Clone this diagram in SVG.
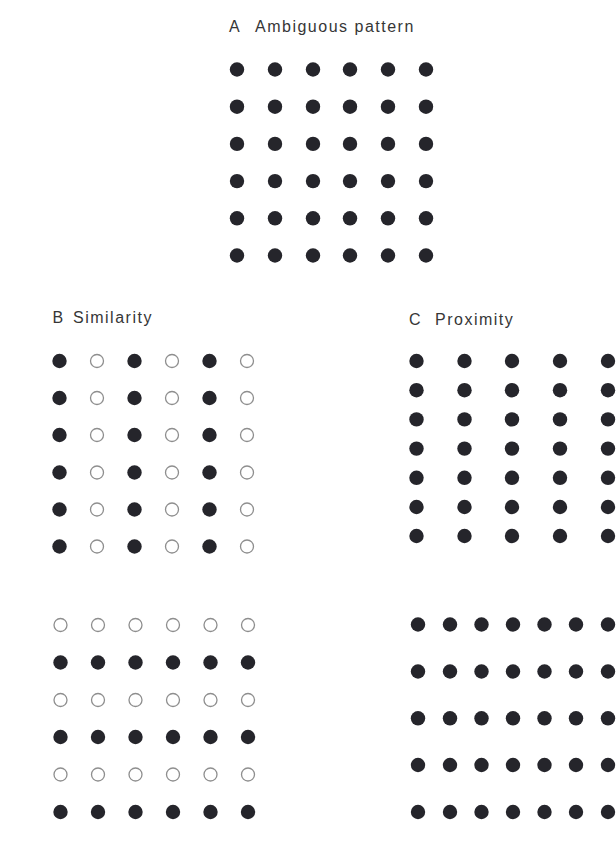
<svg xmlns="http://www.w3.org/2000/svg" width="616" height="852" viewBox="0 0 616 852">
<style>
.bg{fill:#ffffff}
.lbl{font-family:"Liberation Sans",Arial,sans-serif;font-size:16px;letter-spacing:1.5px;fill:#363636}
.dot{fill:#25252b}
.ring{fill:none;stroke:#8e8e8e;stroke-width:1.3}
</style>
<rect class="bg" x="0" y="0" width="616" height="852"/>

<g id="panel-A">
<text class="lbl" y="32"><tspan x="229">A</tspan><tspan x="255">Ambiguous pattern</tspan></text>
<g id="A-dots">
<circle class="dot" cx="237" cy="69.5" r="7.2"/><circle class="dot" cx="275" cy="69.5" r="7.2"/><circle class="dot" cx="313" cy="69.5" r="7.2"/><circle class="dot" cx="350" cy="69.5" r="7.2"/><circle class="dot" cx="388" cy="69.5" r="7.2"/><circle class="dot" cx="426" cy="69.5" r="7.2"/>
<circle class="dot" cx="237" cy="106.7" r="7.2"/><circle class="dot" cx="275" cy="106.7" r="7.2"/><circle class="dot" cx="313" cy="106.7" r="7.2"/><circle class="dot" cx="350" cy="106.7" r="7.2"/><circle class="dot" cx="388" cy="106.7" r="7.2"/><circle class="dot" cx="426" cy="106.7" r="7.2"/>
<circle class="dot" cx="237" cy="143.9" r="7.2"/><circle class="dot" cx="275" cy="143.9" r="7.2"/><circle class="dot" cx="313" cy="143.9" r="7.2"/><circle class="dot" cx="350" cy="143.9" r="7.2"/><circle class="dot" cx="388" cy="143.9" r="7.2"/><circle class="dot" cx="426" cy="143.9" r="7.2"/>
<circle class="dot" cx="237" cy="181.1" r="7.2"/><circle class="dot" cx="275" cy="181.1" r="7.2"/><circle class="dot" cx="313" cy="181.1" r="7.2"/><circle class="dot" cx="350" cy="181.1" r="7.2"/><circle class="dot" cx="388" cy="181.1" r="7.2"/><circle class="dot" cx="426" cy="181.1" r="7.2"/>
<circle class="dot" cx="237" cy="218.3" r="7.2"/><circle class="dot" cx="275" cy="218.3" r="7.2"/><circle class="dot" cx="313" cy="218.3" r="7.2"/><circle class="dot" cx="350" cy="218.3" r="7.2"/><circle class="dot" cx="388" cy="218.3" r="7.2"/><circle class="dot" cx="426" cy="218.3" r="7.2"/>
<circle class="dot" cx="237" cy="255.5" r="7.2"/><circle class="dot" cx="275" cy="255.5" r="7.2"/><circle class="dot" cx="313" cy="255.5" r="7.2"/><circle class="dot" cx="350" cy="255.5" r="7.2"/><circle class="dot" cx="388" cy="255.5" r="7.2"/><circle class="dot" cx="426" cy="255.5" r="7.2"/>
</g>
</g>

<g id="panel-B">
<text class="lbl" y="323"><tspan x="52.5">B</tspan><tspan x="73">Similarity</tspan></text>
<g id="B-columns">
<circle class="dot" cx="59.5" cy="361" r="7.2"/><circle class="ring" cx="97" cy="361" r="6.5"/><circle class="dot" cx="134.5" cy="361" r="7.2"/><circle class="ring" cx="172" cy="361" r="6.5"/><circle class="dot" cx="209.5" cy="361" r="7.2"/><circle class="ring" cx="247" cy="361" r="6.5"/>
<circle class="dot" cx="59.5" cy="398" r="7.2"/><circle class="ring" cx="97" cy="398" r="6.5"/><circle class="dot" cx="134.5" cy="398" r="7.2"/><circle class="ring" cx="172" cy="398" r="6.5"/><circle class="dot" cx="209.5" cy="398" r="7.2"/><circle class="ring" cx="247" cy="398" r="6.5"/>
<circle class="dot" cx="59.5" cy="435" r="7.2"/><circle class="ring" cx="97" cy="435" r="6.5"/><circle class="dot" cx="134.5" cy="435" r="7.2"/><circle class="ring" cx="172" cy="435" r="6.5"/><circle class="dot" cx="209.5" cy="435" r="7.2"/><circle class="ring" cx="247" cy="435" r="6.5"/>
<circle class="dot" cx="59.5" cy="472.5" r="7.2"/><circle class="ring" cx="97" cy="472.5" r="6.5"/><circle class="dot" cx="134.5" cy="472.5" r="7.2"/><circle class="ring" cx="172" cy="472.5" r="6.5"/><circle class="dot" cx="209.5" cy="472.5" r="7.2"/><circle class="ring" cx="247" cy="472.5" r="6.5"/>
<circle class="dot" cx="59.5" cy="509.5" r="7.2"/><circle class="ring" cx="97" cy="509.5" r="6.5"/><circle class="dot" cx="134.5" cy="509.5" r="7.2"/><circle class="ring" cx="172" cy="509.5" r="6.5"/><circle class="dot" cx="209.5" cy="509.5" r="7.2"/><circle class="ring" cx="247" cy="509.5" r="6.5"/>
<circle class="dot" cx="59.5" cy="546.5" r="7.2"/><circle class="ring" cx="97" cy="546.5" r="6.5"/><circle class="dot" cx="134.5" cy="546.5" r="7.2"/><circle class="ring" cx="172" cy="546.5" r="6.5"/><circle class="dot" cx="209.5" cy="546.5" r="7.2"/><circle class="ring" cx="247" cy="546.5" r="6.5"/>
</g>
<g id="B-rows">
<circle class="ring" cx="60.5" cy="625" r="6.5"/><circle class="ring" cx="98" cy="625" r="6.5"/><circle class="ring" cx="135.5" cy="625" r="6.5"/><circle class="ring" cx="173" cy="625" r="6.5"/><circle class="ring" cx="210.5" cy="625" r="6.5"/><circle class="ring" cx="248" cy="625" r="6.5"/>
<circle class="dot" cx="60.5" cy="662.5" r="7.2"/><circle class="dot" cx="98" cy="662.5" r="7.2"/><circle class="dot" cx="135.5" cy="662.5" r="7.2"/><circle class="dot" cx="173" cy="662.5" r="7.2"/><circle class="dot" cx="210.5" cy="662.5" r="7.2"/><circle class="dot" cx="248" cy="662.5" r="7.2"/>
<circle class="ring" cx="60.5" cy="700" r="6.5"/><circle class="ring" cx="98" cy="700" r="6.5"/><circle class="ring" cx="135.5" cy="700" r="6.5"/><circle class="ring" cx="173" cy="700" r="6.5"/><circle class="ring" cx="210.5" cy="700" r="6.5"/><circle class="ring" cx="248" cy="700" r="6.5"/>
<circle class="dot" cx="60.5" cy="737" r="7.2"/><circle class="dot" cx="98" cy="737" r="7.2"/><circle class="dot" cx="135.5" cy="737" r="7.2"/><circle class="dot" cx="173" cy="737" r="7.2"/><circle class="dot" cx="210.5" cy="737" r="7.2"/><circle class="dot" cx="248" cy="737" r="7.2"/>
<circle class="ring" cx="60.5" cy="774.5" r="6.5"/><circle class="ring" cx="98" cy="774.5" r="6.5"/><circle class="ring" cx="135.5" cy="774.5" r="6.5"/><circle class="ring" cx="173" cy="774.5" r="6.5"/><circle class="ring" cx="210.5" cy="774.5" r="6.5"/><circle class="ring" cx="248" cy="774.5" r="6.5"/>
<circle class="dot" cx="60.5" cy="812" r="7.2"/><circle class="dot" cx="98" cy="812" r="7.2"/><circle class="dot" cx="135.5" cy="812" r="7.2"/><circle class="dot" cx="173" cy="812" r="7.2"/><circle class="dot" cx="210.5" cy="812" r="7.2"/><circle class="dot" cx="248" cy="812" r="7.2"/>
</g>
</g>

<g id="panel-C">
<text class="lbl" y="325"><tspan x="409">C</tspan><tspan x="435">Proximity</tspan></text>
<g id="C-columns">
<circle class="dot" cx="416.5" cy="361" r="7.2"/><circle class="dot" cx="464.5" cy="361" r="7.2"/><circle class="dot" cx="512" cy="361" r="7.2"/><circle class="dot" cx="560" cy="361" r="7.2"/><circle class="dot" cx="608" cy="361" r="7.2"/>
<circle class="dot" cx="416.5" cy="390.2" r="7.2"/><circle class="dot" cx="464.5" cy="390.2" r="7.2"/><circle class="dot" cx="512" cy="390.2" r="7.2"/><circle class="dot" cx="560" cy="390.2" r="7.2"/><circle class="dot" cx="608" cy="390.2" r="7.2"/>
<circle class="dot" cx="416.5" cy="419.4" r="7.2"/><circle class="dot" cx="464.5" cy="419.4" r="7.2"/><circle class="dot" cx="512" cy="419.4" r="7.2"/><circle class="dot" cx="560" cy="419.4" r="7.2"/><circle class="dot" cx="608" cy="419.4" r="7.2"/>
<circle class="dot" cx="416.5" cy="448.6" r="7.2"/><circle class="dot" cx="464.5" cy="448.6" r="7.2"/><circle class="dot" cx="512" cy="448.6" r="7.2"/><circle class="dot" cx="560" cy="448.6" r="7.2"/><circle class="dot" cx="608" cy="448.6" r="7.2"/>
<circle class="dot" cx="416.5" cy="477.8" r="7.2"/><circle class="dot" cx="464.5" cy="477.8" r="7.2"/><circle class="dot" cx="512" cy="477.8" r="7.2"/><circle class="dot" cx="560" cy="477.8" r="7.2"/><circle class="dot" cx="608" cy="477.8" r="7.2"/>
<circle class="dot" cx="416.5" cy="507" r="7.2"/><circle class="dot" cx="464.5" cy="507" r="7.2"/><circle class="dot" cx="512" cy="507" r="7.2"/><circle class="dot" cx="560" cy="507" r="7.2"/><circle class="dot" cx="608" cy="507" r="7.2"/>
<circle class="dot" cx="416.5" cy="536" r="7.2"/><circle class="dot" cx="464.5" cy="536" r="7.2"/><circle class="dot" cx="512" cy="536" r="7.2"/><circle class="dot" cx="560" cy="536" r="7.2"/><circle class="dot" cx="608" cy="536" r="7.2"/>
</g>
<g id="C-rows">
<circle class="dot" cx="418" cy="624.5" r="7.2"/><circle class="dot" cx="450" cy="624.5" r="7.2"/><circle class="dot" cx="481.5" cy="624.5" r="7.2"/><circle class="dot" cx="513" cy="624.5" r="7.2"/><circle class="dot" cx="544.5" cy="624.5" r="7.2"/><circle class="dot" cx="576" cy="624.5" r="7.2"/><circle class="dot" cx="608" cy="624.5" r="7.2"/>
<circle class="dot" cx="418" cy="671.5" r="7.2"/><circle class="dot" cx="450" cy="671.5" r="7.2"/><circle class="dot" cx="481.5" cy="671.5" r="7.2"/><circle class="dot" cx="513" cy="671.5" r="7.2"/><circle class="dot" cx="544.5" cy="671.5" r="7.2"/><circle class="dot" cx="576" cy="671.5" r="7.2"/><circle class="dot" cx="608" cy="671.5" r="7.2"/>
<circle class="dot" cx="418" cy="718.3" r="7.2"/><circle class="dot" cx="450" cy="718.3" r="7.2"/><circle class="dot" cx="481.5" cy="718.3" r="7.2"/><circle class="dot" cx="513" cy="718.3" r="7.2"/><circle class="dot" cx="544.5" cy="718.3" r="7.2"/><circle class="dot" cx="576" cy="718.3" r="7.2"/><circle class="dot" cx="608" cy="718.3" r="7.2"/>
<circle class="dot" cx="418" cy="765" r="7.2"/><circle class="dot" cx="450" cy="765" r="7.2"/><circle class="dot" cx="481.5" cy="765" r="7.2"/><circle class="dot" cx="513" cy="765" r="7.2"/><circle class="dot" cx="544.5" cy="765" r="7.2"/><circle class="dot" cx="576" cy="765" r="7.2"/><circle class="dot" cx="608" cy="765" r="7.2"/>
<circle class="dot" cx="418" cy="812" r="7.2"/><circle class="dot" cx="450" cy="812" r="7.2"/><circle class="dot" cx="481.5" cy="812" r="7.2"/><circle class="dot" cx="513" cy="812" r="7.2"/><circle class="dot" cx="544.5" cy="812" r="7.2"/><circle class="dot" cx="576" cy="812" r="7.2"/><circle class="dot" cx="608" cy="812" r="7.2"/>
</g>
</g>
</svg>
